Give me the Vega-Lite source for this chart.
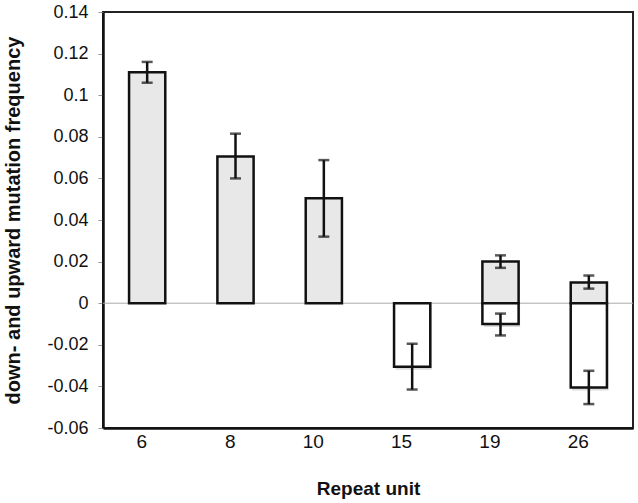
{
  "$schema": "https://vega.github.io/schema/vega-lite/v6.json",
  "width": 530,
  "height": 416,
  "autosize": {"type": "none"},
  "padding": {"left": 103, "top": 12, "right": 5, "bottom": 75},
  "background": "white",
  "config": {
    "view": {"stroke": "#222", "strokeWidth": 2},
    "font": "Liberation Sans"
  },
  "data": {
    "values": [
      {"unit": "6", "dir": "up", "value": 0.111, "lo": 0.106, "hi": 0.116},
      {"unit": "8", "dir": "up", "value": 0.0705, "lo": 0.06, "hi": 0.0815},
      {"unit": "10", "dir": "up", "value": 0.0505, "lo": 0.032, "hi": 0.0688},
      {"unit": "15", "dir": "down", "value": -0.0305, "lo": -0.0415, "hi": -0.0195},
      {"unit": "19", "dir": "up", "value": 0.02, "lo": 0.017, "hi": 0.023},
      {"unit": "19", "dir": "down", "value": -0.01, "lo": -0.0155, "hi": -0.005},
      {"unit": "26", "dir": "up", "value": 0.01, "lo": 0.007, "hi": 0.0133},
      {"unit": "26", "dir": "down", "value": -0.0405, "lo": -0.0485, "hi": -0.0325}
    ]
  },
  "layer": [
    {
      "data": {"values": [{}]},
      "mark": {"type": "rule", "color": "#aaaaaa", "strokeWidth": 1},
      "encoding": {
        "y": {
          "datum": 0,
          "type": "quantitative",
          "scale": {"domain": [-0.06, 0.14], "nice": false, "zero": false},
          "axis": {
            "values": [-0.06, -0.04, -0.02, 0, 0.02, 0.04, 0.06, 0.08, 0.1, 0.12, 0.14],
            "labelExpr": "'' + datum.value",
            "title": "down- and upward mutation frequency",
            "titleFont": "Liberation Sans",
            "titleFontSize": 20,
            "titleFontWeight": "bold",
            "titleColor": "#111",
            "titlePadding": 23,
            "labelFont": "Liberation Sans",
            "labelFontSize": 18,
            "labelColor": "#111",
            "labelPadding": 10,
            "tickColor": "#999",
            "tickSize": 5,
            "domainColor": "#111",
            "domainWidth": 2.5,
            "grid": false
          }
        }
      }
    },
    {
      "transform": [{"filter": "datum.dir == 'down'"}],
      "mark": {"type": "bar", "fill": "#999999", "opacity": 0.35, "yOffset": 3, "xOffset": 1.5, "strokeWidth": 0},
      "encoding": {
        "x": {"field": "unit", "type": "nominal", "sort": ["6", "8", "10", "15", "19", "26"]},
        "y": {"field": "value", "type": "quantitative"},
        "y2": {"datum": 0}
      }
    },
    {
      "mark": {"type": "bar", "stroke": "#111", "strokeWidth": 2.5},
      "encoding": {
        "x": {
          "field": "unit",
          "type": "nominal",
          "sort": ["6", "8", "10", "15", "19", "26"],
          "scale": {"paddingInner": 0.59, "paddingOuter": 0.295},
          "axis": {
            "title": "Repeat unit",
            "titleFont": "Liberation Sans",
            "titleFontSize": 19,
            "titleFontWeight": "bold",
            "titleColor": "#111",
            "titlePadding": 28,
            "labelFont": "Liberation Sans",
            "labelFontSize": 19,
            "labelColor": "#111",
            "labelAngle": 0,
            "labelPadding": 13,
            "ticks": false,
            "tickSize": 0,
            "domainColor": "#111",
            "domainWidth": 2.5
          }
        },
        "y": {"field": "value", "type": "quantitative"},
        "y2": {"datum": 0},
        "fill": {
          "field": "dir",
          "type": "nominal",
          "scale": {"domain": ["up", "down"], "range": ["#e8e8e8", "#ffffff"]},
          "legend": null
        }
      }
    },
    {
      "mark": {"type": "rule", "color": "#111", "strokeWidth": 2.5},
      "encoding": {
        "x": {"field": "unit", "type": "nominal", "sort": ["6", "8", "10", "15", "19", "26"]},
        "y": {"field": "lo", "type": "quantitative"},
        "y2": {"field": "hi"}
      }
    },
    {
      "mark": {"type": "tick", "color": "#111", "thickness": 2.5, "size": 11},
      "encoding": {
        "x": {"field": "unit", "type": "nominal", "sort": ["6", "8", "10", "15", "19", "26"]},
        "y": {"field": "lo", "type": "quantitative"}
      }
    },
    {
      "mark": {"type": "tick", "color": "#111", "thickness": 2.5, "size": 11},
      "encoding": {
        "x": {"field": "unit", "type": "nominal", "sort": ["6", "8", "10", "15", "19", "26"]},
        "y": {"field": "hi", "type": "quantitative"}
      }
    }
  ]
}
